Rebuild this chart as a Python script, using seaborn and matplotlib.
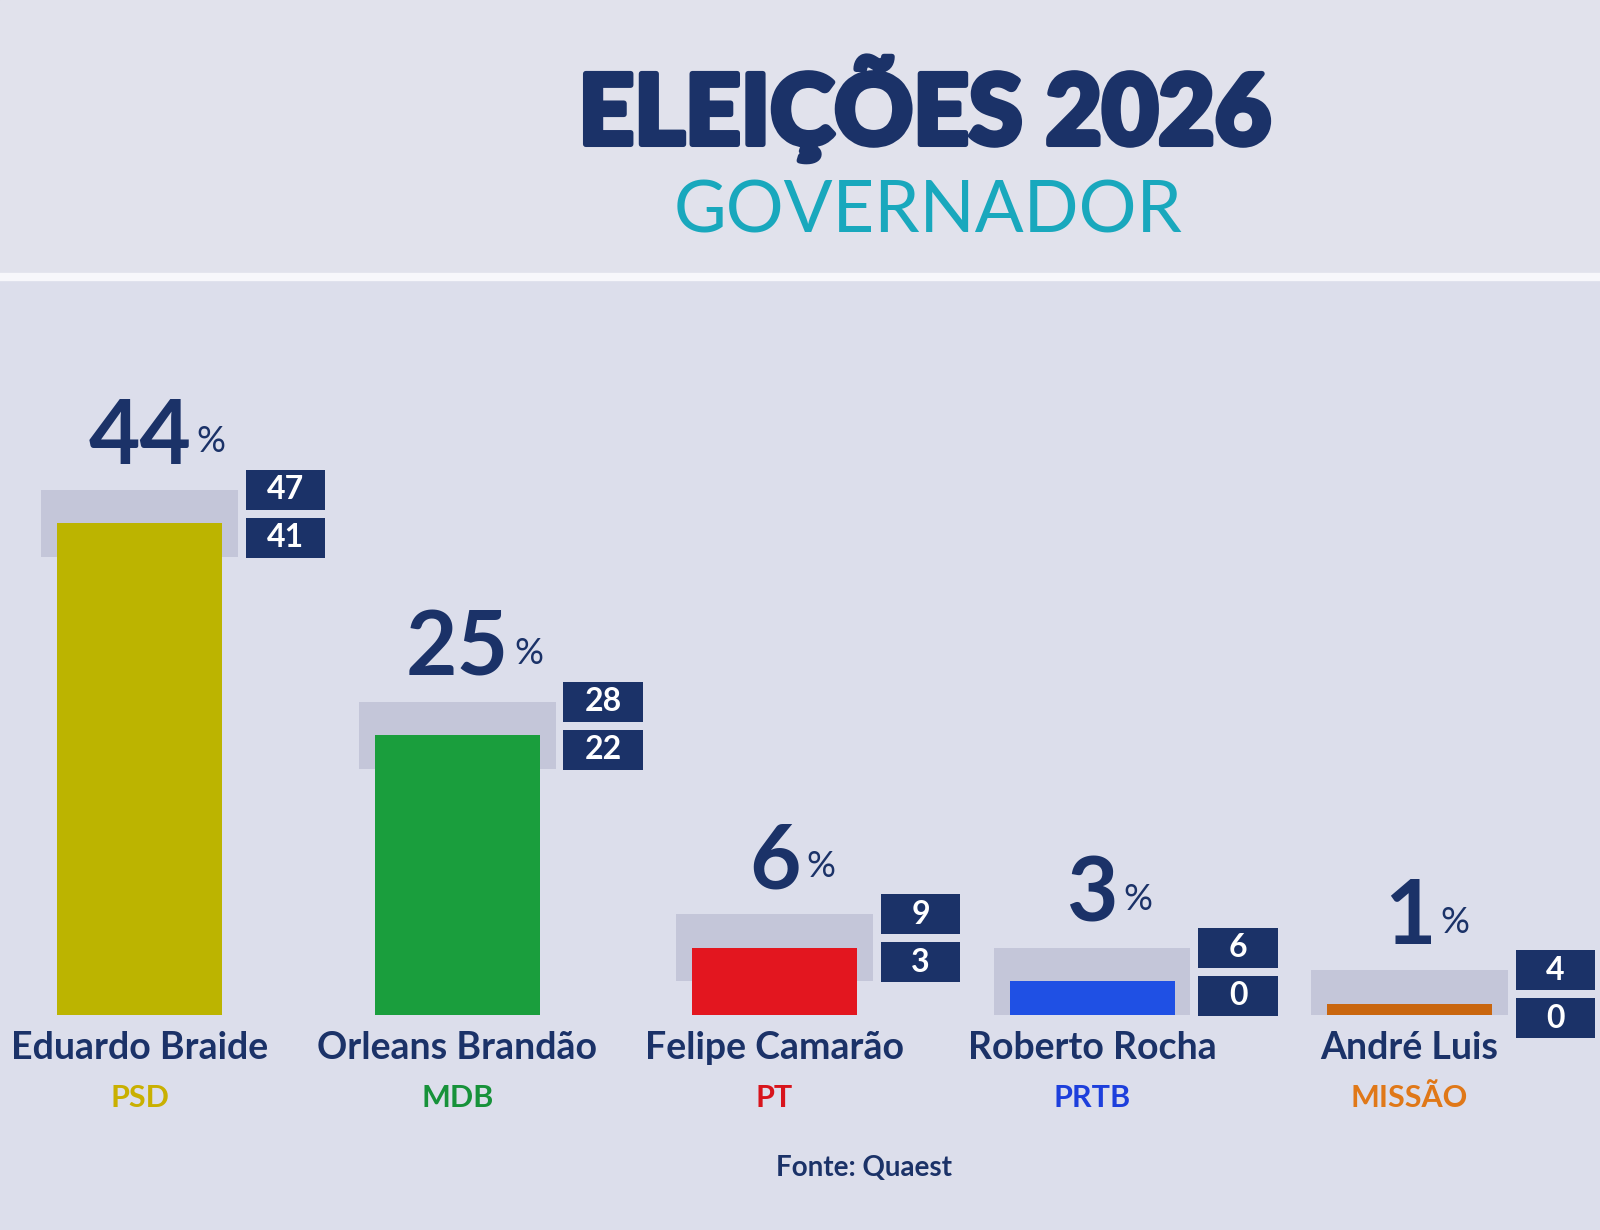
import seaborn as sns
import matplotlib.pyplot as plt
import matplotlib.patheffects as pe
import pandas as pd
import numpy as np
from matplotlib.lines import Line2D
from matplotlib.patches import Rectangle

# ----------------------------------------------------
# Data (Quaest poll, governor race)
# ----------------------------------------------------
candidates = ["Eduardo Braide", "Orleans Brandão", "Felipe Camarão",
              "Roberto Rocha", "André Luis"]
parties = ["PSD", "MDB", "PT", "PRTB", "MISSÃO"]
votes = [44, 25, 6, 3, 1]
upper = [47, 28, 9, 6, 4]
lower = [41, 22, 3, 0, 0]

bar_colors = ["#bcb400", "#1a9e3d", "#e3161f", "#1f50e4", "#c9660f"]
party_colors = ["#c9b000", "#17923a", "#d8141c", "#1d3fdc", "#e07818"]

navy = "#1b3268"
teal = "#19a8bd"
band_gray = "#c4c6d9"
bg = "#dcdeeb"

df = pd.DataFrame({"candidate": candidates, "party": parties, "votes": votes,
                   "upper": upper, "lower": lower})

sns.set_style("white")
plt.rcParams["font.family"] = ["Lato", "DejaVu Sans"]

fig = plt.figure(figsize=(16, 12.3), dpi=100)
fig.patch.set_facecolor(bg)
# header strip and the white separator line
fig.add_artist(Rectangle((0, 0.775), 1, 0.225, transform=fig.transFigure,
                         color="#e1e2ec", zorder=0))
fig.add_artist(Line2D([0, 1], [0.775, 0.775], transform=fig.transFigure,
                      color="#f7f7fb", lw=6, zorder=1))

ax = fig.add_axes([0, 0.175, 1, 0.545])
ax.set_facecolor("none")

# main bars
sns.barplot(data=df, x="candidate", y="votes", hue="candidate",
            palette=bar_colors, width=0.52, legend=False, ax=ax,
            saturation=1, edgecolor="none", linewidth=0, zorder=3)

x = np.arange(len(df))
up = df["upper"].to_numpy()
lo = df["lower"].to_numpy()

# margin-of-error band behind each bar
ax.bar(x, up - lo, bottom=lo, width=0.62, color=band_gray,
       linewidth=0, zorder=2)

# upper / lower bound boxes
box_h = 3.6
gap = 0.7
box_x = x + 0.46
ax.bar(box_x, box_h, bottom=up - box_h / 2, width=0.25, color=navy,
       linewidth=0, zorder=3, clip_on=False)
ax.bar(box_x, box_h, bottom=up - box_h * 1.5 - gap, width=0.25, color=navy,
       linewidth=0, zorder=3, clip_on=False)

for i, row in df.iterrows():
    ax.text(box_x[i], row["upper"], str(row["upper"]), color="white",
            fontsize=23, fontweight="bold", ha="center", va="center", zorder=4)
    ax.text(box_x[i], row["upper"] - box_h - gap, str(row["lower"]), color="white",
            fontsize=23, fontweight="bold", ha="center", va="center", zorder=4,
            clip_on=False)

    # big percentage above the band
    num = ax.annotate(str(row["votes"]), (x[i], row["upper"]), xytext=(0, 8),
                      textcoords="offset points", ha="center", va="bottom",
                      fontsize=64, fontweight="bold", color=navy)
    ax.annotate("%", xy=(1, 0.45), xycoords=num, xytext=(4, 0),
                textcoords="offset points", ha="left", va="center",
                fontsize=26, color=navy)

    # candidate name and party under the bar
    ax.annotate(row["candidate"], (x[i], 0), xytext=(0, -12),
                textcoords="offset points", ha="center", va="top",
                fontsize=27, fontweight="bold", color=navy)
    ax.annotate(row["party"], (x[i], 0), xytext=(0, -50),
                textcoords="offset points", ha="center", va="top",
                fontsize=22, fontweight="bold", color=party_colors[i])

ax.set_xlim(-0.44, 4.6)
ax.set_ylim(0, 60)
ax.set_xlabel("")
ax.set_ylabel("")
ax.set_xticks([])
ax.set_yticks([])
sns.despine(ax=ax, left=True, bottom=True)

# header
fig.text(0.578, 0.912, "ELEIÇÕES 2026", ha="center", va="center",
         fontsize=70, fontweight="black", color=navy,
         path_effects=[pe.withStroke(linewidth=4, foreground=navy)])
fig.text(0.58, 0.828, "GOVERNADOR", ha="center", va="center",
         fontsize=52, fontweight="normal", color=teal)

fig.text(0.54, 0.05, "Fonte: Quaest", ha="center", va="center",
         fontsize=20, fontweight="bold", color=navy)

fig.savefig("out.png", dpi=100, facecolor=fig.get_facecolor())
plt.close(fig)
